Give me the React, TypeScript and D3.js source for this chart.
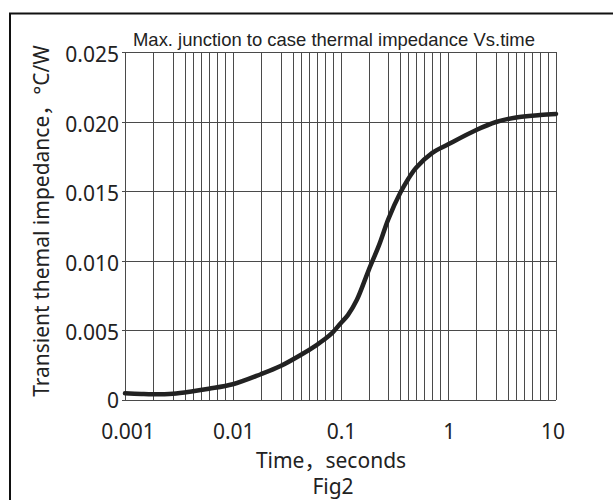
import { useEffect } from 'react'
import * as d3 from 'd3'

// transient thermal impedance curve
const times = [0.001, 0.0015, 0.002, 0.003, 0.005, 0.007, 0.01, 0.02, 0.03, 0.05, 0.07, 0.08, 0.09, 0.1, 0.12, 0.15, 0.2, 0.25, 0.3, 0.4, 0.5, 0.6, 0.8, 1, 2, 3, 5, 8, 10]
const zth = [0.00048, 0.00043, 0.00041, 0.00045, 0.00063, 0.00081, 0.00113, 0.00185, 0.00244, 0.00323, 0.00395, 0.00436, 0.00484, 0.0055, 0.0061, 0.0072, 0.0093, 0.0112, 0.013, 0.0149, 0.0159, 0.0167, 0.01775, 0.01837, 0.0194, 0.01997, 0.0203, 0.02047, 0.02055]

const xTickValues = [0.001, 0.01, 0.1, 1, 10]
const xTickLabels = ['0.001', '0.01', '0.1', '1', '10']
const yTickValues = [0, 0.005, 0.01, 0.015, 0.02, 0.025]
const yTickLabels = ['0', '0.005', '0.010', '0.015', '0.020', '0.025']
const decades = [-3, -2, -1, 0]
const mantissas = [1, 2, 3, 4, 5, 6, 7, 8, 9]

const title = 'Max. junction to case thermal impedance Vs.time'
const xTitle = 'Time，seconds'
const yTitle = 'Transient themal impedance，°C/W'
const caption = 'Fig2'

const W = 613
const H = 500
const left = 125
const right = 556
const top = 52
const bottom = 400

// the printed log grid is not a true log scale: minor lines past 4 are evenly spaced
const gridFrac = [0, 0.26, 0.444, 0.556, 0.63, 0.704, 0.778, 0.852, 0.926]

export default function App() {
  useEffect(() => {
    document.body.style.margin = '0'
  }, [])

  const decW = (right - left) / decades.length
  const dom: number[] = []
  const rng: number[] = []
  decades.forEach((e, di) => {
    mantissas.forEach((m, mi) => {
      dom.push(Math.log10(m) + e)
      rng.push(left + (di + gridFrac[mi]) * decW)
    })
  })
  dom.push(1)
  rng.push(right)
  const xLog = d3.scaleLinear().domain(dom).range(rng)
  const x = (t: number) => xLog(Math.log10(t))
  const y = d3.scaleLinear().domain([0, 0.025]).range([bottom, top])

  const gridTimes: number[] = []
  decades.forEach(e => mantissas.forEach(m => gridTimes.push(m * Math.pow(10, e))))
  gridTimes.push(10)

  const line = d3.line<number>()
    .x((d, i) => x(times[i]))
    .y(d => y(d))
    .curve(d3.curveCatmullRom.alpha(0.5))

  const font = '"Noto Sans", "Noto Sans CJK SC", sans-serif'

  return (
    <svg width={W} height={H} style={{ position: 'absolute', left: 0, top: 0, display: 'block', background: '#fff' }}>
      {/* outer frame, cut off at the right and bottom */}
      <path d={`M10,${H + 5} V13.5 H${W + 5}`} fill="none" stroke="#111" strokeWidth={2} />

      <text x={334} y={46} textAnchor="middle" fontFamily='"Liberation Sans", Arial, sans-serif' fontSize={19}
        textLength={402} lengthAdjust="spacingAndGlyphs" fill="#222">{title}</text>

      {/* grid */}
      <g stroke="#4a4a4a" strokeWidth={1} shapeRendering="crispEdges">
        {gridTimes.map((t, i) => (
          <line key={'v' + i} x1={Math.round(x(t)) + 0.5} x2={Math.round(x(t)) + 0.5} y1={top} y2={bottom} />
        ))}
        {yTickValues.map((v, i) => (
          <line key={'h' + i} x1={left - 3} x2={right} y1={Math.round(y(v)) + 0.5} y2={Math.round(y(v)) + 0.5} />
        ))}
      </g>

      <path d={line(zth) || ''} fill="none" stroke="#222" strokeWidth={4.5} strokeLinecap="round" />

      {/* y ticks */}
      <g fontFamily={font} fontSize={21} fill="#222" textAnchor="end">
        {yTickValues.map((v, i) => (
          <text key={i} x={119} y={y(v) + (v === 0 ? 0 : 2)} dominantBaseline="central">{yTickLabels[i]}</text>
        ))}
      </g>

      {/* x ticks */}
      <g fontFamily={font} fontSize={21} fill="#222" textAnchor="middle">
        {xTickValues.map((t, i) => (
          <text key={i} x={x(t) + (i === 0 ? 3 : i === 4 ? -3 : 1)} y={439}>{xTickLabels[i]}</text>
        ))}
      </g>

      <text x={331} y={468} textAnchor="middle" fontFamily={font} fontSize={21} fill="#222">{xTitle}</text>
      <text x={333} y={494} textAnchor="middle" fontFamily={font} fontSize={21} fill="#222">{caption}</text>
      <text transform="translate(41,221) rotate(-90)" textAnchor="middle" dominantBaseline="central"
        fontFamily={font} fontSize={21} fill="#222">{yTitle}</text>
    </svg>
  )
}
